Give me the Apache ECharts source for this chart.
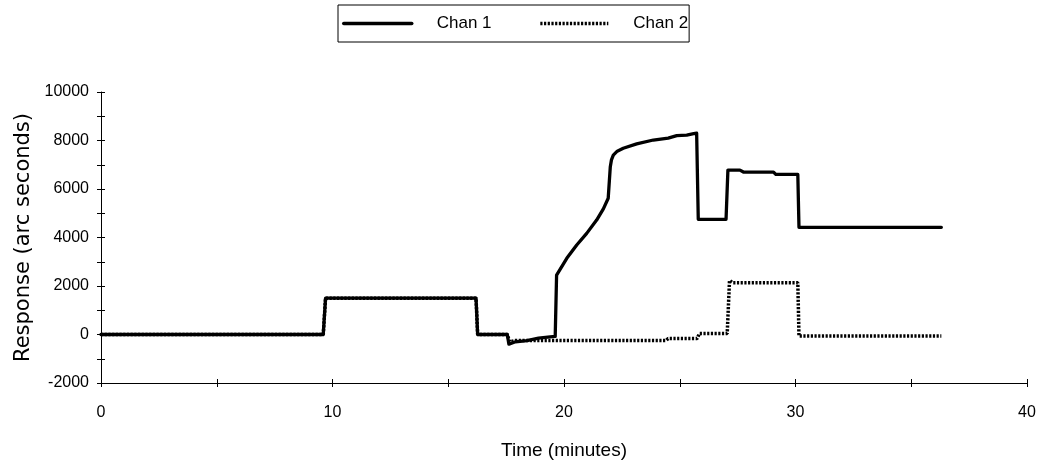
<!DOCTYPE html>
<html>
<head>
<meta charset="utf-8">
<title>Response vs Time</title>
<script src="https://cdn.jsdelivr.net/npm/echarts@6/dist/echarts.min.js"></script>
<style>
  html, body { margin: 0; padding: 0; background: #fff; }
  #chart { width: 1046px; height: 468px; }
</style>
</head>
<body>
<div id="chart"></div>
<script>
// Channel 1 response (arc seconds) against time (minutes)
var chan1Time = [0, 9.6, 9.7, 16.2, 16.27, 17.55, 17.62, 17.9, 18.4, 18.9, 19.4, 19.62, 19.68,
  20.12, 20.55, 20.98, 21.41, 21.70, 21.91, 22.0, 22.05, 22.13, 22.3, 22.56, 23.14, 23.86, 24.5, 24.87,
  25.3, 25.6, 25.73, 25.8, 27.0, 27.08, 27.6, 27.75, 29.05, 29.15, 30.1, 30.15, 36.3];
var chan1Resp = [0, 0, 1500, 1500, 0, 0, -400, -300, -250, -150, -100, -80, 2450,
  3140, 3690, 4170, 4720, 5180, 5620, 6920, 7200, 7400, 7560, 7680, 7860, 8020, 8100, 8200,
  8220, 8280, 8300, 4750, 4750, 6780, 6780, 6700, 6700, 6600, 6600, 4420, 4420];

// Channel 2 response (arc seconds) against time (minutes)
var chan2Time = [0, 9.6, 9.7, 16.2, 16.27, 17.55, 17.65, 17.9, 24.4, 24.5, 25.75, 25.85,
  27.05, 27.15, 27.3, 30.1, 30.15, 36.3];
var chan2Resp = [0, 0, 1500, 1500, 0, 0, -300, -250, -250, -170, -170, 40,
  40, 2230, 2130, 2130, -60, -60];

var seriesNames = ['Chan 1', 'Chan 2'];
var xTickLabels = ['0', '10', '20', '30', '40'];
var yTickLabels = ['-2000', '0', '2000', '4000', '6000', '8000', '10000'];

function pairs(xs, ys) {
  return xs.map(function (x, i) { return [x, ys[i]]; });
}

var sans = "'Liberation Sans', Arial, sans-serif";

var xMin = Number(xTickLabels[0]), xMax = Number(xTickLabels[xTickLabels.length - 1]);
var yMin = Number(yTickLabels[0]), yMax = Number(yTickLabels[yTickLabels.length - 1]);

function plain(v) { return String(v); }

// The labelled axis carries outward ticks; an unlabelled twin adds the inward
// half so every tick crosses the axis line.
function xAxisDef(withLabels) {
  return {
    type: 'value', min: xMin, max: xMax, interval: 10, position: 'bottom',
    name: withLabels ? 'Time (minutes)' : '',
    nameLocation: 'middle', nameGap: 58,
    nameTextStyle: { fontFamily: sans, fontSize: 19, color: '#000' },
    axisLine: { show: withLabels, onZero: false, lineStyle: { color: '#000', width: 1 } },
    axisTick: { show: true, inside: !withLabels, length: 4, lineStyle: { color: '#000' } },
    minorTick: { show: true, splitNumber: 2, length: 4, lineStyle: { color: '#000' } },
    minorSplitLine: { show: false },
    splitLine: { show: false },
    axisLabel: { show: withLabels, margin: 22, fontFamily: sans, fontSize: 16, color: '#000', formatter: plain }
  };
}

function yAxisDef(withLabels) {
  return {
    type: 'value', min: yMin, max: yMax, interval: 2000, position: 'left',
    name: withLabels ? 'Response (arc seconds)' : '',
    nameLocation: 'middle', nameGap: 54,
    nameTextStyle: { fontFamily: "'DejaVu Sans', sans-serif", fontSize: 21, color: '#000' },
    axisLine: { show: withLabels, onZero: false, lineStyle: { color: '#000', width: 1 } },
    axisTick: { show: true, inside: !withLabels, length: 4, lineStyle: { color: '#000' } },
    minorTick: { show: true, splitNumber: 2, length: 4, lineStyle: { color: '#000' } },
    splitLine: { show: false },
    axisLabel: { show: withLabels, margin: 12, fontFamily: sans, fontSize: 16, color: '#000', formatter: plain }
  };
}

var chart = echarts.init(document.getElementById('chart'), null, { renderer: 'canvas' });
chart.setOption({
  backgroundColor: '#fff',
  animation: false,
  grid: { left: 101, right: 19, top: 92, bottom: 85, containLabel: false, outerBoundsMode: 'none' },
  legend: {
    data: seriesNames,
    left: 338, top: 5,
    orient: 'horizontal',
    itemWidth: 68, itemHeight: 14, itemGap: 47,
    padding: [10, 1, 10, 4],
    borderColor: '#000', borderWidth: 1, borderRadius: 0,
    itemStyle: { color: 'transparent', borderColor: 'transparent', borderWidth: 0 },
    lineStyle: { width: 3.5 },
    textStyle: { fontFamily: sans, fontSize: 17, color: '#000', padding: [0, 0, 0, 20] }
  },
  xAxis: [xAxisDef(true), xAxisDef(false)],
  yAxis: [yAxisDef(true), yAxisDef(false)],
  series: [
    {
      name: seriesNames[0], type: 'line', z: 3,
      data: pairs(chan1Time, chan1Resp),
      showSymbol: false, symbol: 'none',
      lineStyle: { color: '#000', width: 3.3, cap: 'round', join: 'round' },
      itemStyle: { color: '#000' }
    },
    {
      name: seriesNames[1], type: 'line', z: 2,
      data: pairs(chan2Time, chan2Resp),
      showSymbol: false, symbol: 'none',
      lineStyle: { color: '#000', width: 3.5, type: [2.2, 1.5] },
      itemStyle: { color: '#000' }
    }
  ]
});
</script>
</body>
</html>
